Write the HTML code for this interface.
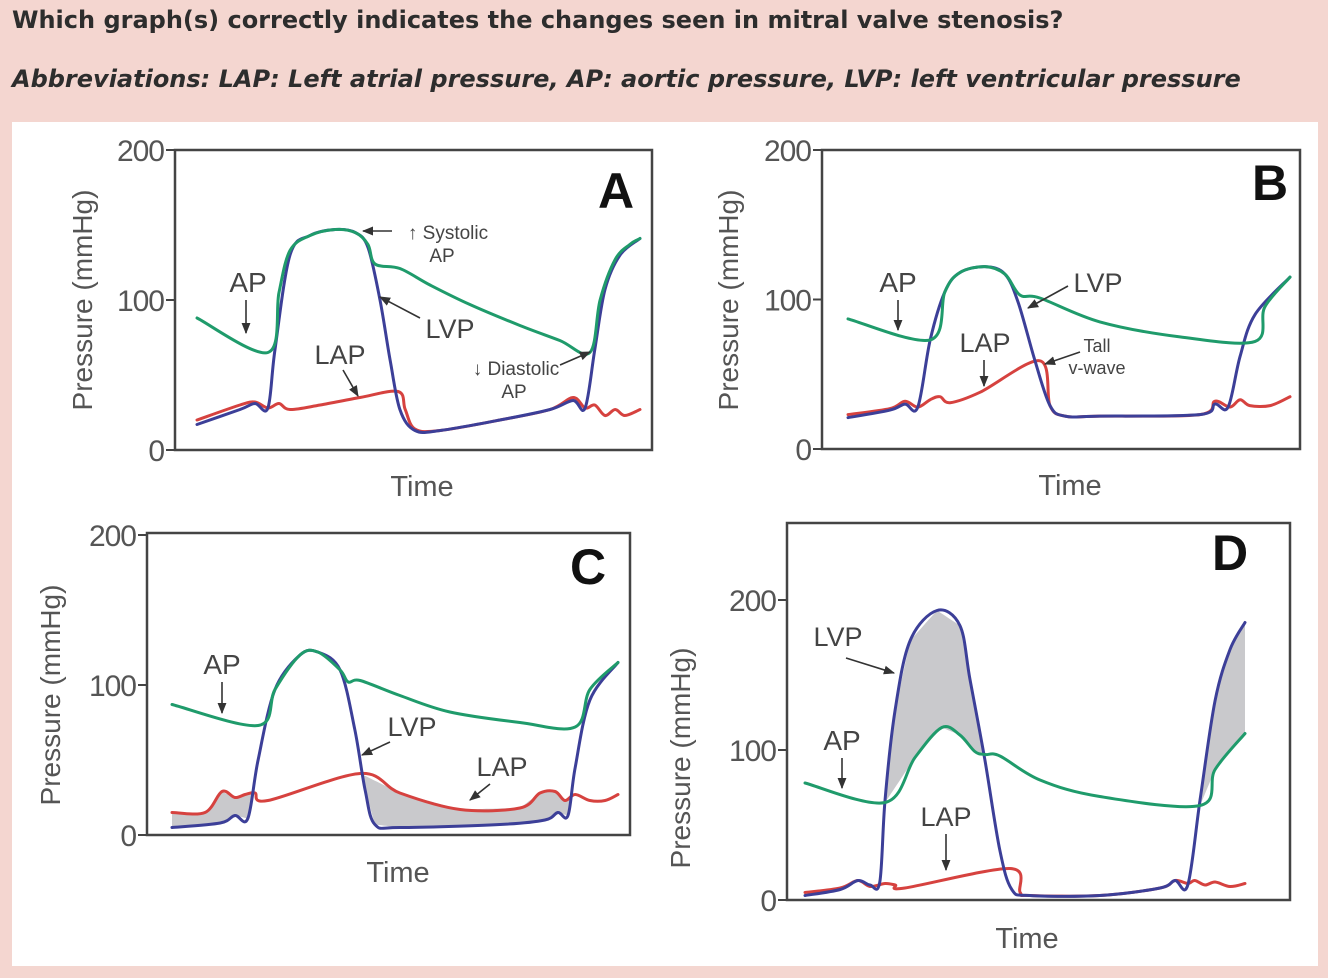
<!DOCTYPE html>
<html><head><meta charset="utf-8">
<style>
html,body{margin:0;padding:0;background:#f4d6d0;}
body{width:1328px;height:978px;overflow:hidden;position:relative;font-family:"Liberation Sans",sans-serif;}
.q{position:absolute;left:12px;color:#2d2d2d;font-weight:bold;font-size:24px;margin:0;font-family:"DejaVu Sans",sans-serif;white-space:nowrap;}
#chart{position:absolute;left:0;top:0;}
</style></head><body>
<p class="q" style="top:6px;">Which graph(s) correctly indicates the changes seen in mitral valve stenosis?</p>
<p class="q" style="top:65px;font-style:italic;">Abbreviations: LAP: Left atrial pressure, AP: aortic pressure, LVP: left ventricular pressure</p>
<svg id="chart" width="1328" height="978" xmlns="http://www.w3.org/2000/svg">
<defs><marker id="ah" viewBox="0 0 10 10" refX="9" refY="5" markerWidth="7" markerHeight="7" orient="auto"><path d="M0,1 L10,5 L0,9 z" fill="#333"/></marker></defs>
<rect x="12" y="122" width="1306" height="844" fill="#fff"/>
</svg>
<script>
// ---- Panel A data ----
const aApTime=[0,16,18.5,21,25.5,31.2,35.7,38.6,40.2,45.8,52.6,61.6,72.9,81.9,88.7,91,94.4,97.7,100];
const aApVal=[88,65,105,133,143,147,145,137,124,121,110,97,83,73,65,100,127,137,141];
const aLvpTime=[0,9.7,13.1,16,17.6,21,25.5,31.2,35.7,38.6,41.3,43.6,45.8,49.2,54.9,68.4,79.7,84.9,87.6,89.8,92.1,95.5,100];
const aLvpVal=[17,27,31,28,67,130,143,147,145,135,100,60,27,13,13,20,27,33,28,67,107,130,141];
const aLapTime=[0,9.7,13.1,16,18.5,21,27.8,36.8,45.4,47,49.2,54.9,68.4,79.7,84.9,87.6,89.8,92.1,94.4,96.6,100];
const aLapVal=[20,30,32,28,31,27,30,35,39,27,14,13,20,27,35,28,30,23,27,23,27];
// ---- Panel B data ----
const bApTime=[0,18.6,21.9,25.3,31,35.5,38.9,43.4,57,75.1,92.1,94.3,100];
const bApVal=[87,73,105,118,122,117,103,101,85,75,72,95,115];
const bLvpTime=[0,9.5,12.9,15.8,18.6,21.9,25.3,31,35.5,38.5,42.3,45.7,49.1,57,79.6,83,86,88.7,92.1,100];
const bLvpVal=[21,26,30,28,73,105,118,122,117,98,59,29,22,22,23,30,28,62,90,115];
const bLapTime=[0,9.5,12.9,15.8,18.6,20.8,23.1,29.9,43.4,45.7,49.1,57,79.6,83,86.4,88.7,90.9,95.5,100];
const bLapVal=[23,27,32,28,33,35,31,38,59,29,22,22,23,32,28,33,29,29,35];
// ---- Panel C data ----
const cApTime=[0,19.3,23.1,28.7,32.7,37.7,39.5,42.2,51.1,62.3,78,90.4,93.7,100];
const cApVal=[87,73,97,120,122,110,102,103,93,82,75,72,97,115];
const cLvpTime=[0,10.8,14.1,17,19.3,23.1,28.7,32.7,37.7,41,43.3,45.5,51.1,73.5,83.6,86.5,88.8,90.4,93.7,100];
const cLvpVal=[5,8,13,11,50,97,120,122,110,70,30,7,5,7,10,15,13,45,90,115];
const cLapTime=[0,7.4,11.2,14.1,16.4,18.6,21.5,42.2,51.1,64.6,78,82.5,85.9,88.1,90.4,93.7,97.1,100];
const cLapVal=[15,15,29,25,27,28,23,41,28,17,18,28,29,23,27,23,23,27];
// ---- Panel D data ----
const dApTime=[0,18.2,25,31.1,35.2,38.6,40.9,44.3,53.4,67,89.8,93.2,100];
const dApVal=[78,65,95,115,110,99,97,96,80,69,63,87,111];
const dLvpTime=[0,8,12,14.8,17,18.2,20.5,23.9,30,35.2,37.5,40.9,44.3,47,51.1,67,80.7,84.1,87,89.8,93.2,96.6,100];
const dLvpVal=[3,7,13,10,12,67,127,173,193,183,147,93,33,7,3,3,8,13,10,67,133,167,185];
const dLapTime=[0,8,12,14.8,18.2,20.5,22.7,46.6,48.9,51.1,67,80.7,84.1,87,88.6,90.9,93.2,96.6,100];
const dLapVal=[5,8,13,9,11,10,8,21,5,3,3,8,13,11,13,10,12,9,11];
const yTickVals=[0,100,200];
const yTickLabels=["0","100","200"];

const svg=document.getElementById('chart');
const NS='http://www.w3.org/2000/svg';
function mk(tag,attrs,parent){const e=document.createElementNS(NS,tag);for(const k in attrs)e.setAttribute(k,attrs[k]);(parent||svg).appendChild(e);return e;}
function smoothPath(pts){
  let d='M'+pts[0][0].toFixed(1)+','+pts[0][1].toFixed(1);
  for(let i=0;i<pts.length-1;i++){
    const p0=pts[i-1]||pts[i],p1=pts[i],p2=pts[i+1],p3=pts[i+2]||p2;
    const c1=[p1[0]+(p2[0]-p0[0])/6,p1[1]+(p2[1]-p0[1])/6];
    const c2=[p2[0]-(p3[0]-p1[0])/6,p2[1]-(p3[1]-p1[1])/6];
    d+=' C'+c1[0].toFixed(1)+','+c1[1].toFixed(1)+' '+c2[0].toFixed(1)+','+c2[1].toFixed(1)+' '+p2[0].toFixed(1)+','+p2[1].toFixed(1);
  }
  return d;
}
function interp(ts,vs,t){
  if(t<=ts[0])return vs[0];
  for(let i=1;i<ts.length;i++){if(t<=ts[i]){const f=(t-ts[i-1])/(ts[i]-ts[i-1]);return vs[i-1]+f*(vs[i]-vs[i-1]);}}
  return vs[vs.length-1];
}
function panel(cfg){
  const g=mk('g',{});
  
  
  const xS=t=>cfg.dx0+(t/100)*(cfg.dx1-cfg.dx0);
  const yS=p=>cfg.y0-p*cfg.ppm;
  if(cfg.fill){
    const [uT,uV,lT,lV]=cfg.fill;const top=[],bot=[];
    for(let t=0;t<=100;t+=0.5){const u=interp(uT,uV,t),l=interp(lT,lV,t);top.push([xS(t),yS(u)]);bot.push([xS(t),yS(Math.min(u,l))]);}
    const pts=top.concat(bot.reverse());
    const f=mk('polygon',{points:pts.map(p=>p[0].toFixed(1)+','+p[1].toFixed(1)).join(' '),fill:'#c9c9cc'},g);
    
    
  }
  const fr=mk('rect',{x:cfg.fx0,y:cfg.fy0,width:cfg.fx1-cfg.fx0,height:cfg.fy1-cfg.fy0,fill:'none',stroke:'#444','stroke-width':2.5},g);
  
  
  yTickVals.forEach((v,i)=>{
    const y=yS(v);
    const tk=mk('line',{x1:cfg.fx0-9,x2:cfg.fx0,y1:y,y2:y,stroke:'#444','stroke-width':2},g);
    
    
    const tl=mk('text',{x:cfg.fx0-11,y:y+11,'text-anchor':'end','font-size':30,fill:'#555','font-family':'Liberation Sans, sans-serif','letter-spacing':'-1'},g);
    tl.textContent=yTickLabels[i];
    
    
  });
  const series=[['lap',cfg.lap,'#d6423f'],['lvp',cfg.lvp,'#3c3f98'],['ap',cfg.ap,'#1f9b6b']];
  series.forEach(s=>{
    const pts=s[1][0].map((t,i)=>[xS(t),yS(s[1][1][i])]);
    const p=mk('path',{d:smoothPath(pts),fill:'none',stroke:s[2],'stroke-width':3,'stroke-linejoin':'round','stroke-linecap':'round'},g);
    
    
  });
  const yl=mk('text',{x:0,y:0,transform:'translate('+cfg.ylx+','+cfg.yly+') rotate(-90)','text-anchor':'middle','font-size':28,fill:'#555','font-family':'Liberation Sans, sans-serif'},g);
  yl.textContent='Pressure (mmHg)';
  
  
  const xl=mk('text',{x:cfg.tx,y:cfg.ty,'text-anchor':'middle','font-size':29,fill:'#555','font-family':'Liberation Sans, sans-serif'},g);
  xl.textContent='Time';
  
  
  const lt=mk('text',{x:cfg.lx,y:cfg.ly,'text-anchor':'middle','font-size':50,'font-weight':'bold',fill:'#111','font-family':'Liberation Sans, sans-serif'},g);
  lt.textContent=cfg.id.toUpperCase();
  
  
  cfg.notes.forEach(n=>{
    const t=mk('text',{x:n[1],y:n[2],'text-anchor':'middle','font-size':n[3],fill:'#444','font-family':'Liberation Sans, sans-serif'},g);
    t.textContent=n[0];
    
    
  });
  cfg.arrows.forEach(a=>{
    const l=mk('line',{x1:a[0],y1:a[1],x2:a[2],y2:a[3],stroke:'#333','stroke-width':1.6,'marker-end':'url(#ah)'},g);
    
    
  });
}
panel({id:'a',fx0:175,fx1:652,fy0:150,fy1:450,dx0:197,dx1:640,y0:450,ppm:1.5,
  ap:[aApTime,aApVal],lvp:[aLvpTime,aLvpVal],lap:[aLapTime,aLapVal],
  ylx:92,yly:300,tx:422,ty:496,lx:616,ly:208,
  notes:[['AP',248,292,28],['LVP',450,338,27],['LAP',340,364,27],['↑ Systolic',448,239,19],['AP',442,262,19],['↓ Diastolic',516,375,19],['AP',514,398,19]],
  arrows:[[246,300,246,333],[392,231,363,231],[420,318,380,297],[343,370,358,396],[560,365,590,352]]});
panel({id:'b',fx0:822,fx1:1300,fy0:150,fy1:449,dx0:848,dx1:1290,y0:449,ppm:1.495,
  ap:[bApTime,bApVal],lvp:[bLvpTime,bLvpVal],lap:[bLapTime,bLapVal],
  ylx:738,yly:300,tx:1070,ty:495,lx:1270,ly:200,
  notes:[['AP',898,292,28],['LVP',1098,292,27],['LAP',985,352,27],['Tall',1097,352,18],['v-wave',1097,374,18]],
  arrows:[[898,300,898,330],[1068,286,1028,308],[984,360,984,386],[1080,352,1045,364]]});
panel({id:'c',fx0:147,fx1:630,fy0:533,fy1:835,dx0:172,dx1:618,y0:835,ppm:1.5,
  ap:[cApTime,cApVal],lvp:[cLvpTime,cLvpVal],lap:[cLapTime,cLapVal],fill:[cLapTime,cLapVal,cLvpTime,cLvpVal],
  ylx:60,yly:695,tx:398,ty:882,lx:588,ly:584,
  notes:[['AP',222,674,28],['LVP',412,736,27],['LAP',502,776,27]],
  arrows:[[222,682,222,713],[390,742,362,755],[490,784,470,800]]});
panel({id:'d',fx0:787,fx1:1290,fy0:523,fy1:900,dx0:805,dx1:1245,y0:900,ppm:1.5,
  ap:[dApTime,dApVal],lvp:[dLvpTime,dLvpVal],lap:[dLapTime,dLapVal],fill:[dLvpTime,dLvpVal,dApTime,dApVal],
  ylx:690,yly:758,tx:1027,ty:948,lx:1230,ly:570,
  notes:[['LVP',838,646,27],['AP',842,750,28],['LAP',946,826,27]],
  arrows:[[846,658,894,673],[842,758,842,788],[946,834,946,870]]});
</script>
</body></html>
